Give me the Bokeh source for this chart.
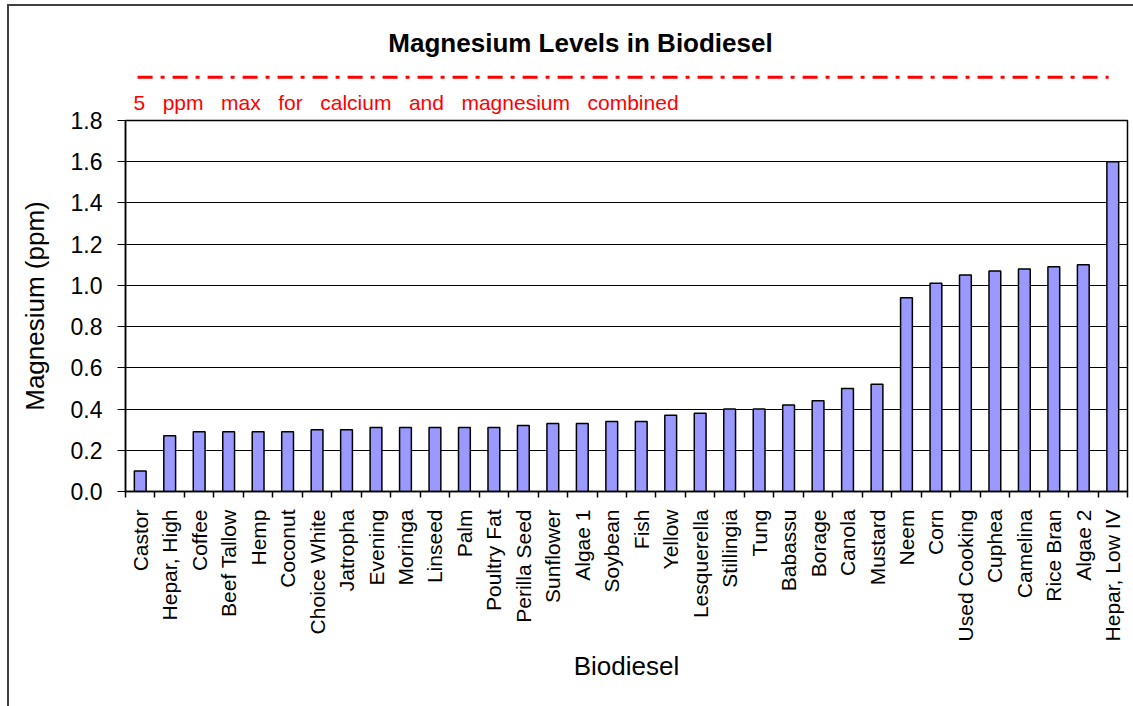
import numpy as np
from math import pi
from bokeh.plotting import figure
from bokeh.layouts import column
from bokeh.models import (Range1d, FixedTicker, NumeralTickFormatter, Label)
from bokeh.embed import file_html
from bokeh.resources import INLINE

CATEGORIES = ["Castor", "Hepar, High", "Coffee", "Beef Tallow", "Hemp", "Coconut",
              "Choice White", "Jatropha", "Evening", "Moringa", "Linseed", "Palm",
              "Poultry Fat", "Perilla Seed", "Sunflower", "Algae 1", "Soybean", "Fish",
              "Yellow", "Lesquerella", "Stillingia", "Tung", "Babassu", "Borage",
              "Canola", "Mustard", "Neem", "Corn", "Used Cooking", "Cuphea",
              "Camelina", "Rice Bran", "Algae 2", "Hepar, Low IV"]
MAGNESIUM = [0.10, 0.27, 0.29, 0.29, 0.29, 0.29,
             0.30, 0.30, 0.31, 0.31, 0.31, 0.31,
             0.31, 0.32, 0.33, 0.33, 0.34, 0.34,
             0.37, 0.38, 0.40, 0.40, 0.42, 0.44,
             0.50, 0.52, 0.94, 1.01, 1.05, 1.07,
             1.08, 1.09, 1.10, 1.60]
Y_TICKS = [0.0, 0.2, 0.4, 0.6, 0.8, 1.0, 1.2, 1.4, 1.6, 1.8]
TITLE = "Magnesium Levels in Biodiesel"
Y_LABEL = "Magnesium (ppm)"
X_LABEL = "Biodiesel"
LIMIT_WORDS = ["5", "ppm", "max", "for", "calcium", "and", "magnesium", "combined"]
LIMIT_Y = 2.01

FONT = "Liberation Sans"
n = len(CATEGORIES)
centers = [i + 0.5 for i in range(n)]
bounds = list(range(n + 1))
y_top = max(Y_TICKS)

# ---------- header strip (title, limit line) ----------
hdr = figure(width=1124, height=74, output_backend="svg", toolbar_location=None,
             x_range=Range1d(0, n), y_range=Range1d(1.9941, 2.3531),
             x_axis_type=None, y_axis_type=None,
             min_border_left=116, min_border_right=6, min_border_top=0, min_border_bottom=0)
hdr.outline_line_color = None
hdr.xgrid.visible = False
hdr.ygrid.visible = False
hdr.margin = (0, 0, 0, 0)

hdr.segment(x0=[0.41], x1=[n - 0.64], y0=[LIMIT_Y], y1=[LIMIT_Y], line_color="red",
            line_width=3, line_dash="15 8 4 8")
hdr.add_layout(Label(x=15.44, y=2.174, text=TITLE, text_color="black", text_font=FONT,
                     text_font_size="26px", text_font_style="bold", text_align="center",
                     text_baseline="alphabetic"))

# ---------- main chart ----------
p = figure(width=1124, height=626, output_backend="svg", toolbar_location=None,
           x_range=hdr.x_range, y_range=Range1d(0, y_top),
           min_border_left=116, min_border_right=6, min_border_top=40, min_border_bottom=215)
p.margin = (0, 0, 0, 0)

# the red note about the limit sits just above the plot area
p.title.text = " \u00a0\u00a0".join(LIMIT_WORDS)
p.title.align = "left"
p.title.offset = 8
p.title.standoff = 14
p.title.text_color = "red"
p.title.text_font = FONT
p.title.text_font_size = "21px"
p.title.text_font_style = "normal"

p.outline_line_color = "black"
p.outline_line_width = 1.5
p.xgrid.visible = False
p.ygrid.ticker = FixedTicker(ticks=Y_TICKS)
p.ygrid.grid_line_color = "black"
p.ygrid.grid_line_width = 1

p.vbar(x=centers, top=MAGNESIUM, width=0.4, fill_color="#9999FF",
       line_color="black", line_width=1.5)

ya = p.yaxis[0]
ya.ticker = FixedTicker(ticks=Y_TICKS)
ya.formatter = NumeralTickFormatter(format="0.0")
ya.major_tick_in = 0
ya.major_tick_out = 8
ya.minor_tick_out = 0
ya.minor_tick_in = 0
ya.axis_line_color = "black"
ya.axis_line_width = 1.5
ya.major_tick_line_color = "black"
ya.major_label_text_font = FONT
ya.major_label_text_font_size = "23px"
ya.major_label_text_color = "black"
ya.major_label_standoff = 15
ya.axis_label = Y_LABEL
ya.axis_label_text_font = FONT
ya.axis_label_text_font_size = "26px"
ya.axis_label_text_font_style = "normal"
ya.axis_label_text_color = "black"
ya.axis_label_standoff = 18

xa = p.xaxis[0]
xa.ticker = FixedTicker(ticks=centers, minor_ticks=bounds)
xa.major_label_overrides = {c: name for c, name in zip(centers, CATEGORIES)}
xa.major_tick_out = 0
xa.major_tick_in = 0
xa.minor_tick_out = 6
xa.minor_tick_in = 0
xa.minor_tick_line_color = "black"
xa.minor_tick_line_width = 1.5
xa.axis_line_color = "black"
xa.axis_line_width = 1.5
xa.major_label_orientation = pi / 2
xa.major_label_text_font = FONT
xa.major_label_text_font_size = "21px"
xa.major_label_text_color = "black"
xa.major_label_standoff = 12
xa.axis_label = X_LABEL
xa.axis_label_text_font = FONT
xa.axis_label_text_font_size = "26px"
xa.axis_label_text_font_style = "normal"
xa.axis_label_text_color = "black"
xa.axis_label_standoff = 7

layout = column(hdr, p, spacing=0)
layout.margin = (4, 0, 0, 7)
layout.styles = {"border-left": "2px solid #404040", "border-top": "2px solid #404040"}

open("out.html", "w").write(file_html(layout, INLINE))
